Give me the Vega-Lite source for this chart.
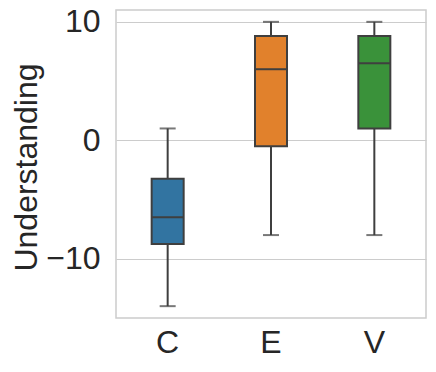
{
  "$schema": "https://vega.github.io/schema/vega-lite/v6.json",
  "width": 310,
  "height": 308,
  "autosize": {"type": "none"},
  "padding": {"left": 116, "top": 10, "right": 10, "bottom": 54},
  "background": "white",
  "data": {
    "values": [
      {"group": "C", "min": -14, "q1": -8.75, "median": -6.5, "q3": -3.25, "max": 1},
      {"group": "E", "min": -8, "q1": -0.5, "median": 6, "q3": 8.8, "max": 10},
      {"group": "V", "min": -8, "q1": 1, "median": 6.5, "q3": 8.8, "max": 10}
    ]
  },
  "encoding": {
    "x": {
      "field": "group",
      "type": "nominal",
      "sort": ["C", "E", "V"],
      "scale": {"paddingInner": 0, "paddingOuter": 0},
      "axis": {
        "title": null,
        "labelAngle": 0,
        "ticks": false,
        "domain": false,
        "grid": false,
        "labelPadding": 9,
        "labelBaseline": "top"
      }
    }
  },
  "layer": [
    {
      "mark": {"type": "rule", "color": "#3f3f3f", "strokeWidth": 2},
      "encoding": {
        "y": {
          "field": "min",
          "type": "quantitative",
          "scale": {"domain": [-15, 11], "nice": false, "zero": false},
          "axis": {
            "title": "Understanding",
            "values": [-10, 0, 10],
            "ticks": false,
            "domain": false,
            "grid": true,
            "labelPadding": 16,
            "titleX": -80,
            "titleY": 157,
            "titleAngle": -90,
            "titleAlign": "center",
            "titleBaseline": "alphabetic"
          }
        },
        "y2": {"field": "max"}
      }
    },
    {
      "mark": {"type": "tick", "color": "#3f3f3f", "thickness": 2, "size": 16},
      "encoding": {"y": {"field": "min", "type": "quantitative"}}
    },
    {
      "mark": {"type": "tick", "color": "#3f3f3f", "thickness": 2, "size": 16},
      "encoding": {"y": {"field": "max", "type": "quantitative"}}
    },
    {
      "mark": {"type": "bar", "size": 32, "stroke": "#3f3f3f", "strokeWidth": 2, "opacity": 1},
      "encoding": {
        "y": {"field": "q1", "type": "quantitative"},
        "y2": {"field": "q3"},
        "fill": {
          "field": "group",
          "type": "nominal",
          "scale": {"domain": ["C", "E", "V"], "range": ["#3274a1", "#e1812c", "#3a923a"]},
          "legend": null
        }
      }
    },
    {
      "mark": {"type": "tick", "color": "#3f3f3f", "thickness": 2, "size": 32, "opacity": 1},
      "encoding": {"y": {"field": "median", "type": "quantitative"}}
    }
  ],
  "config": {
    "font": "Liberation Sans",
    "view": {"stroke": "#cccccc", "strokeWidth": 1.5},
    "axis": {
      "labelFont": "Liberation Sans",
      "titleFont": "Liberation Sans",
      "labelFontSize": 32,
      "titleFontSize": 32,
      "labelColor": "#262626",
      "titleColor": "#262626",
      "titleFontWeight": "normal",
      "gridColor": "#cccccc",
      "gridWidth": 1.2,
      "gridOpacity": 1
    }
  }
}
